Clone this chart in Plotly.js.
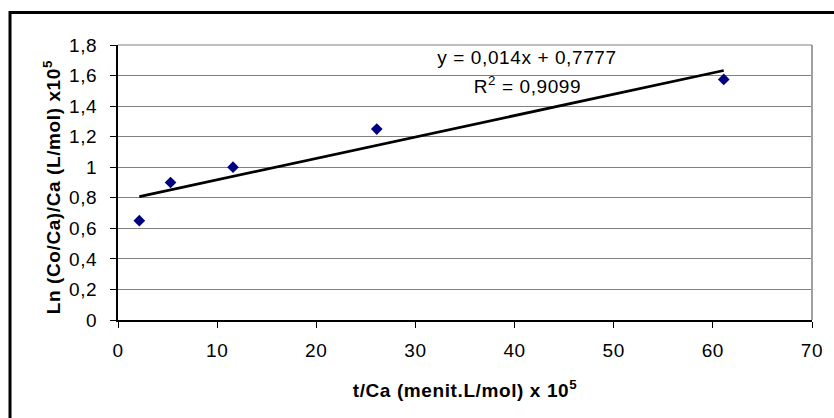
<!DOCTYPE html>
<html>
<head>
<meta charset="utf-8">
<script src="https://cdn.plot.ly/plotly-3.0.1.min.js"></script>
<style>
  html, body { margin: 0; padding: 0; background: #fff; }
  #chart { width: 834px; height: 418px; }
  #chart svg text { letter-spacing: 0.6px; }
</style>
</head>
<body>
<div id="chart"></div>
<script>
// Data
const xValues = [2.15, 5.3, 11.6, 26.1, 61.1];
const yValues = [0.65, 0.90, 1.00, 1.25, 1.575];
// Trendline coefficients as printed on the chart
const slope = 0.014;
const intercept = 0.7777;
const rSquared = "0,9099";
const equationText = "y = 0,014x + 0,7777";
const xTitle = "t/Ca (menit.L/mol) x 10<sup>5</sup>";
const yTitle = "Ln (Co/Ca)/Ca (L/mol) x10<sup>5</sup>";

const xMin = Math.min(...xValues);
const xMax = Math.max(...xValues);
const trendX = [xMin, xMax];
const trendY = trendX.map(v => slope * v + intercept);

const font = "Liberation Sans, Arial, sans-serif";
const fs = 19;

const data = [
  {
    x: trendX, y: trendY, type: "scatter", mode: "lines",
    line: { color: "#000000", width: 2.8 },
    hoverinfo: "skip", showlegend: false
  },
  {
    x: xValues, y: yValues, type: "scatter", mode: "markers",
    marker: { symbol: "diamond", size: 9, color: "#000080",
              line: { width: 0 } },
    showlegend: false
  }
];

const layout = {
  width: 834, height: 418,
  margin: { l: 118, r: 22, t: 45, b: 98 },
  paper_bgcolor: "#ffffff", plot_bgcolor: "#ffffff",
  separators: ",.",
  font: { family: font, size: fs, color: "#000000" },
  showlegend: false,
  xaxis: {
    range: [0, 70], dtick: 10, tick0: 0,
    showgrid: false, zeroline: false,
    showline: true, linecolor: "#000000", linewidth: 2,
    ticks: "outside", ticklen: 6, tickwidth: 1, tickcolor: "#000000",
    ticklabelstandoff: 6,
    tickfont: { family: font, size: fs, color: "#000000" },
    title: { text: xTitle, standoff: 24,
             font: { family: font, size: fs, color: "#000000", weight: "bold" } }
  },
  yaxis: {
    range: [0, 1.8], dtick: 0.2, tick0: 0,
    showgrid: true, gridcolor: "#808080", gridwidth: 1,
    zeroline: false,
    showline: true, linecolor: "#000000", linewidth: 2,
    ticks: "outside", ticklen: 6, tickwidth: 1, tickcolor: "#000000",
    ticklabelstandoff: 9,
    tickfont: { family: font, size: fs, color: "#000000" }
  },
  shapes: [
    { type: "line", xref: "x domain", yref: "y domain", x0: 1, x1: 1, y0: 0, y1: 1,
      line: { color: "#a0a0a0", width: 2 } },
    { type: "line", xref: "x domain", yref: "y domain", x0: 0, x1: 1, y0: 1, y1: 1,
      line: { color: "#808080", width: 1 } },
    { type: "rect", xref: "paper", yref: "paper",
      x0: -0.1556, x1: 1.3, y0: -0.6, y1: 1.1185,
      line: { color: "#000000", width: 3 }, layer: "above" }
  ],
  annotations: [
    { x: 41.25, y: 1.715, xref: "x", yref: "y", text: equationText,
      showarrow: false, xanchor: "center", yanchor: "middle",
      font: { family: font, size: fs, color: "#000000" } },
    { x: 41.3, y: 1.538, xref: "x", yref: "y", text: "R<sup>2</sup> = " + rSquared,
      showarrow: false, xanchor: "center", yanchor: "middle",
      font: { family: font, size: fs, color: "#000000" } },
    // y-axis title
    { x: -0.0951, y: 0.482, xref: "paper", yref: "paper", text: yTitle,
      textangle: -90, showarrow: false, xanchor: "center", yanchor: "middle",
      font: { family: font, size: fs, color: "#000000", weight: "bold" } }
  ]
};

Plotly.newPlot("chart", data, layout, { staticPlot: true, displayModeBar: false });
</script>
</body>
</html>
